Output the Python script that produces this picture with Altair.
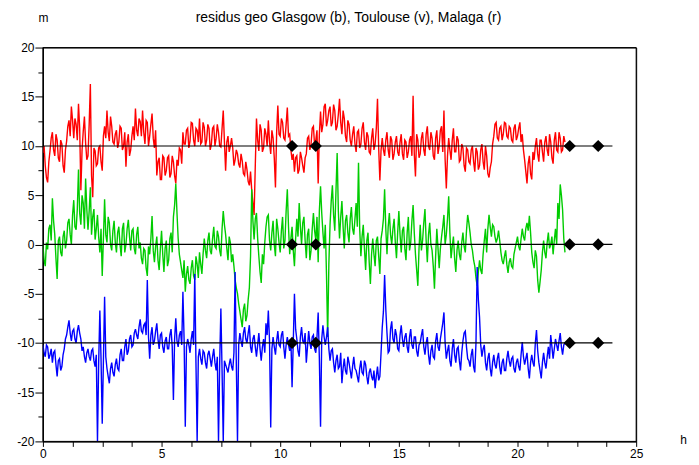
import altair as alt
import pandas as pd

# readings every 0.1 h (k.0, k.1, ...) from 0 to 22 h
red = [
    9.3, 8.0, 6.3, 9.5, 11.4, 9.0, 10.6, 8.4, 10.2, 7.3,
    10.5, 12.6, 14.0, 10.8, 12.2, 14.3, 5.5, 11.5, 10.3, 9.0,
    16.3, 4.8, 9.5, 8.2, 10.0, 7.5, 12.0, 13.6, 10.5, 12.0,
    10.2, 11.6, 10.4, 11.8, 10.0, 7.9, 11.2, 9.6, 12.0, 13.8,
    11.0, 12.5, 13.6, 10.2, 12.4, 11.0, 13.3, 9.8, 7.0, 8.8,
    6.6, 8.8, 7.5, 9.0, 7.2, 8.4, 6.2, 8.0, 9.6, 11.4,
    10.2, 11.8, 10.5, 12.3, 10.0, 11.6, 12.8, 10.4, 11.9, 10.6,
    11.8, 10.2, 12.0, 10.8, 11.4, 9.9, 13.6, 7.5, 11.0, 10.0,
    9.8, 8.6, 9.2, 7.8, 8.5, 7.0, 7.6, 6.0, 5.5, 3.0,
    12.8, 9.5, 11.6, 9.8, 11.2, 12.6, 9.2, 10.8, 5.8, 14.1,
    11.0, 12.4, 10.6, 13.9, 11.2, 8.6, 7.4, 9.0, 7.6, 8.8,
    7.3, 9.2, 11.0, 10.2, 12.0, 10.6, 6.2, 13.5, 12.2, 14.3,
    12.6, 14.0, 12.4, 13.6, 12.0, 14.8, 11.2, 12.8, 10.4, 12.2,
    10.0, 12.0, 9.4, 11.6, 10.2, 12.4, 9.6, 11.0, 9.2, 11.8,
    10.2, 14.8, 6.5, 10.8, 9.0, 11.4, 8.8, 10.6, 9.2, 11.0,
    9.0, 11.2, 8.6, 10.4, 9.4, 11.0, 15.1, 6.9, 10.6, 9.2,
    11.4, 9.0, 12.0, 9.6, 10.8, 8.6, 11.6, 10.0, 12.0, 13.6,
    5.7, 10.8, 8.6, 11.8, 9.4, 10.6, 8.6, 9.8, 7.4, 9.6,
    8.2, 10.0, 7.4, 9.4, 8.0, 10.2, 7.6, 9.0, 6.8, 8.4,
    11.0, 12.4, 10.6, 12.0, 11.2, 12.3, 10.8, 11.8, 10.4, 12.2,
    11.0, 12.4, 11.2, 8.6, 6.2, 9.0, 6.6, 8.6, 10.8, 8.4,
    10.6, 8.4, 11.0, 9.0, 10.4, 8.2, 11.4, 9.4, 10.8, 9.6,
    10.4,
]
# readings at the half steps (k.05, k.15, ...)
red_mid = [
    10.0, 6.8, 8.4, 10.8, 9.6, 11.2, 8.8, 10.6, 8.0, 9.6,
    12.0, 11.0, 12.6, 12.8, 10.6, 11.8, 9.6, 13.0, 8.6, 12.2,
    7.0, 9.8, 8.0, 9.8, 8.4, 11.0, 10.8, 11.4, 13.0, 10.4,
    11.2, 9.8, 12.0, 9.6, 11.4, 10.4, 9.0, 11.0, 10.6, 11.6,
    12.8, 11.0, 11.4, 12.6, 10.0, 12.2, 10.8, 11.6, 8.4, 6.6,
    9.0, 7.0, 8.8, 6.8, 9.0, 7.0, 8.6, 9.8, 8.2, 10.2,
    11.6, 9.8, 12.4, 10.6, 11.8, 10.4, 10.2, 12.4, 10.0, 12.2,
    9.6, 11.8, 10.0, 12.2, 10.0, 11.8, 10.4, 10.4, 9.4, 10.8,
    8.0, 9.6, 8.2, 9.2, 7.2, 8.4, 6.4, 7.4, 4.2, 8.0,
    10.6, 12.2, 9.4, 11.8, 10.0, 10.4, 11.6, 8.8, 11.4, 11.2,
    12.8, 10.8, 12.2, 11.0, 9.6, 9.2, 8.8, 7.2, 9.4, 8.0,
    8.8, 10.8, 9.6, 11.8, 10.0, 11.6, 11.2, 11.4, 14.0, 12.0,
    13.6, 12.0, 14.2, 11.6, 13.2, 12.4, 13.6, 11.0, 12.6, 10.6,
    11.2, 10.2, 11.4, 9.8, 11.8, 10.4, 11.4, 9.4, 10.8, 9.6,
    11.8, 9.8, 9.6, 9.6, 10.6, 9.6, 11.0, 8.6, 10.4, 9.4,
    10.4, 9.2, 10.6, 8.8, 10.6, 9.0, 9.2, 11.2, 8.8, 10.8,
    9.6, 11.2, 10.0, 11.4, 9.0, 10.8, 9.2, 11.6, 9.4, 8.6,
    9.0, 9.6, 10.6, 9.4, 11.0, 8.4, 10.2, 8.0, 9.8, 8.4,
    9.6, 8.4, 9.8, 7.6, 9.6, 8.4, 10.0, 7.2, 7.8, 10.2,
    12.2, 10.8, 11.8, 10.6, 12.4, 11.0, 12.0, 10.6, 11.8, 10.6,
    11.8, 10.4, 9.6, 7.4, 8.2, 7.2, 9.4, 10.0, 9.2, 10.6,
    9.4, 10.4, 9.6, 11.2, 8.8, 10.6, 9.6, 11.4, 9.4, 11.0,
]

green = [
    0.0, -2.2, -0.5, 2.0, 4.7, 1.0, -3.5, 0.8, -1.2, 1.4,
    0.4, 2.6, 0.0, 4.5, 1.5, 7.6, 2.0, 4.2, 6.7, 1.5,
    5.8, 2.8, 0.5, 3.0, -0.8, -3.2, 4.6, 0.2, 2.2, -0.6,
    2.4, -0.8, 1.8, -1.2, 2.2, 0.0, 2.5, -0.6, 1.6, -1.0,
    1.8, 0.2, -2.0, -0.6, -3.2, -1.0, 2.9, -1.8, 0.8, -2.6,
    1.4, -2.8, 0.4, -1.6, 1.2, 2.8, 6.2, 0.6, -1.8, -3.4,
    -4.8, -2.2, -4.0, -1.6, -3.6, -2.0, -0.8, -3.0, 0.6, -1.4,
    1.2, -1.0, 1.8, -0.4, 0.8, -1.2, 3.4, 1.0, -1.6, 0.2,
    -1.0, -3.6, -5.0, -6.8, -8.4, -6.0, -7.2, -4.4, 5.6, 0.5,
    3.2, -1.2, -3.9, -2.0, 1.8, 3.0, -0.6, 2.4, -1.2, 1.6,
    -0.8, 2.8, 0.4, 5.6, -1.0, 1.8, -2.2, 2.6, 4.2, 0.0,
    2.8, -1.4, 1.6, -0.6, 3.2, 0.4, -1.8, 5.9, 1.2, 2.0,
    -9.4, 2.0, 6.0, 1.4, 9.3, 0.6, 4.4, -0.4, 3.0, 0.2,
    3.8, 1.0, 4.2, 8.3, -1.2, 2.0, -2.6, 1.2, -4.0, 0.6,
    -2.2, 0.8, -3.0, 1.4, 5.6, -1.0, 3.2, 0.0, 2.6, -1.4,
    3.4, -0.8, 1.8, -1.6, 2.8, 0.2, 4.0, -1.0, -4.2, 2.0,
    0.4, 3.6, -1.8, 2.2, -0.6, -4.5, 1.6, -2.4, 0.8, 3.0,
    1.0, 4.9, -1.4, 0.8, -2.8, 0.4, -1.6, 1.2, -0.8, 3.0,
    1.2, -0.6, -2.2, -4.2, -1.6, -3.0, 0.4, -0.8, 3.0, 0.8,
    1.8, 0.2, 1.4, -0.8, -2.0, -0.6, -2.9, -1.4, -2.4, -0.4,
    0.8, -0.6, 1.6, 0.4, 2.2, 2.9, -0.8, -2.4, -1.2, -4.9,
    -2.6, 0.4, -1.4, 1.2, 0.0, -1.0, 1.6, 4.2, 6.1, 3.5,
    -0.8,
]
green_mid = [
    -1.6, 0.2, 1.6, 0.4, 2.4, -1.4, 0.4, -0.8, 0.8, -0.4,
    2.2, 1.0, 3.0, 1.8, 3.6, 3.2, 5.0, 1.6, 3.6, 3.4,
    1.0, 3.6, 1.6, 0.8, 1.6, 0.6, 1.0, 2.8, 0.0, 1.4,
    0.2, 1.2, 0.0, 1.6, -0.8, 1.6, 0.8, 1.4, -0.4, 1.0,
    -0.4, -1.4, -0.4, -2.4, -0.2, 0.6, -0.6, -0.2, -1.6, -0.4,
    -1.0, -0.4, -2.2, 0.6, -0.8, 4.0, 3.2, -1.0, -2.6, -1.6,
    -3.0, -3.6, -2.4, -3.2, -1.2, -3.4, -2.0, -1.0, -0.6, 0.4,
    -0.6, 0.6, -0.2, 1.4, -0.6, 1.6, 2.0, -0.4, 0.8, -1.8,
    -2.2, -4.4, -6.0, -7.6, -6.6, -7.8, -5.6, -1.2, 2.4, 2.6,
    0.6, -2.8, -1.0, 0.2, 2.8, 0.4, 1.2, 0.0, 2.6, 0.2,
    1.4, -0.4, 3.4, 1.8, 0.6, -0.6, 0.6, 0.8, 1.8, 2.2,
    0.4, 1.0, -1.6, 1.6, 1.4, 2.8, 3.4, 3.2, -0.4, -3.0,
    -2.0, 4.4, 3.0, 5.4, 3.4, 2.8, 1.8, 2.4, 1.2, 2.6,
    1.6, 2.6, 1.8, 1.6, 0.8, -0.4, 0.4, -1.8, -1.0, -1.0,
    0.4, -1.2, 0.6, 2.6, 1.6, 1.8, 1.0, 1.6, 0.2, 1.2,
    1.0, 1.4, -0.4, 1.2, -0.6, 2.4, 1.2, -2.6, -0.4, -0.6,
    2.2, 0.4, 1.0, 0.0, -2.2, -1.2, -0.4, -0.4, 1.8, 0.0,
    2.6, 1.2, -0.2, -1.4, -0.6, -1.0, 0.2, -0.2, 1.4, 2.2,
    0.0, -1.6, -3.4, -2.8, -2.6, -1.0, 1.6, 1.6, 1.8, 2.0,
    0.8, 0.6, 0.4, -1.6, -1.2, -2.0, -1.8, -2.2, -1.0, 0.2,
    -0.2, 0.6, 0.8, 1.6, 1.4, 1.2, -1.8, -0.6, -3.6, -3.8,
    -0.8, -0.8, 0.2, -0.4, 0.8, 0.4, 0.0, 2.6, 5.0, 0.6,
]

blue = [
    -10.2, -11.4, -10.4, -11.2, -12.0, -10.8, -13.4, -11.6, -12.4, -10.6,
    -9.2, -7.7, -9.8, -8.6, -10.0, -8.2, -9.6, -10.4, -12.0, -10.6,
    -11.8, -10.6, -12.4, -20.0, -6.7, -18.2, -5.3, -12.6, -14.1, -12.0,
    -13.4, -11.6, -12.8, -10.6, -11.8, -9.6, -10.8, -9.2, -10.2, -8.6,
    -9.6, -7.6, -9.0, -8.0, -3.6, -11.6, -8.4, -9.8, -8.0, -10.6,
    -9.0, -11.0, -9.4, -10.6, -8.6, -15.8, -7.5, -10.4, -8.8, -4.8,
    -18.5, -9.6, -11.0, -8.8, -3.0, -20.0, -10.6, -12.2, -11.0, -12.6,
    -10.8, -12.4, -10.6, -12.8, -20.0, -6.5, -20.0, -12.2, -13.0, -11.6,
    -12.8, -2.8, -20.0, -9.0, -10.4, -8.4, -10.0, -8.2, -11.0, -9.2,
    -11.4, -9.0, -11.8, -9.6, -8.0, -6.7, -18.6, -9.4, -11.2, -8.8,
    -10.4, -8.8, -11.6, -9.4, -10.8, -14.5, -5.0, -9.6, -11.4, -8.4,
    -10.0, -12.0, -8.8, -10.6, -9.2, -11.0, -6.9, -18.5, -8.2, -10.2,
    -8.4, -11.8, -10.6, -13.0, -11.2, -12.4, -14.1, -11.6, -13.2, -12.0,
    -13.6, -11.4, -12.8, -14.0, -11.8, -13.2, -12.2, -14.2, -12.6, -13.8,
    -14.6, -12.4, -13.4, -8.4, -3.1, -9.0, -10.8, -7.8, -10.0, -9.2,
    -10.8, -8.2, -10.4, -9.0, -11.0, -8.6, -10.6, -9.4, -11.4, -10.0,
    -8.6, -11.2, -9.4, -12.2, -10.2, -11.6, -9.0, -10.8, -8.8, -6.9,
    -11.6, -10.2, -12.4, -9.6, -12.0, -10.4, -12.8, -9.8, -8.8, -11.6,
    -12.4, -10.6, -13.0, -2.3, -7.4, -11.4, -10.2, -12.8, -11.0, -13.4,
    -11.2, -12.6, -11.0, -13.2, -11.6, -12.8, -10.8, -12.4, -11.4, -13.0,
    -11.6, -12.8, -9.9, -12.2, -11.0, -13.6, -11.2, -12.4, -8.7, -12.0,
    -13.6, -11.0, -12.6, -10.4, -9.2, -11.6, -9.6, -10.8, -9.0, -11.2,
    -10.0,
]
blue_mid = [
    -11.0, -10.2, -11.6, -10.6, -11.0, -12.2, -11.8, -12.8, -11.2, -9.6,
    -8.4, -9.0, -8.8, -9.6, -8.8, -9.0, -10.8, -11.4, -11.0, -11.4,
    -10.8, -11.8, -11.2, -12.0, -11.6, -11.8, -11.4, -13.4, -12.6, -13.0,
    -12.2, -12.6, -11.2, -11.8, -10.4, -11.2, -9.6, -10.4, -9.0, -9.2,
    -8.4, -8.8, -8.2, -9.2, -9.4, -9.2, -10.2, -8.8, -9.6, -9.2,
    -10.4, -9.8, -10.6, -9.2, -10.4, -9.6, -9.8, -9.2, -10.2, -9.6,
    -10.4, -10.2, -9.6, -10.2, -12.0, -11.4, -11.6, -10.8, -12.0, -11.2,
    -11.6, -11.4, -12.0, -11.4, -12.0, -12.8, -11.8, -12.6, -12.2, -12.4,
    -11.0, -12.0, -10.2, -9.8, -9.0, -9.6, -9.0, -10.4, -9.6, -10.4,
    -10.2, -10.6, -10.4, -11.0, -9.2, -9.8, -10.6, -10.4, -9.8, -10.2,
    -9.2, -10.4, -10.2, -10.2, -9.6, -10.0, -8.6, -10.8, -9.4, -9.8,
    -9.0, -10.4, -10.0, -9.4, -10.6, -9.4, -11.6, -9.6, -9.4, -9.4,
    -10.6, -10.8, -12.0, -11.8, -12.6, -11.0, -12.6, -12.8, -11.4, -12.8,
    -12.4, -12.6, -13.4, -12.6, -13.0, -11.8, -13.4, -13.0, -13.4, -12.8,
    -13.4, -13.8, -11.0, -6.8, -6.6, -11.0, -8.6, -9.6, -8.6, -10.6,
    -9.2, -9.6, -9.4, -10.4, -9.4, -10.2, -9.4, -10.8, -10.2, -9.2,
    -10.4, -10.0, -11.2, -10.8, -11.4, -9.8, -10.4, -9.6, -8.0, -10.0,
    -10.8, -11.8, -10.6, -11.2, -10.6, -11.8, -11.0, -9.0, -10.4, -11.8,
    -11.2, -12.4, -10.0, -5.6, -10.2, -10.6, -12.0, -11.6, -12.6, -12.0,
    -12.2, -11.6, -12.4, -12.0, -12.8, -11.6, -11.8, -11.6, -12.6, -12.0,
    -12.4, -11.2, -11.4, -11.6, -12.6, -12.0, -12.0, -10.0, -10.8, -12.8,
    -12.0, -12.0, -11.4, -11.6, -10.4, -10.6, -10.2, -9.8, -10.4, -10.2,
]

# reference levels and marker positions
levels = [10, 0, -10]
level_start = 0
level_end = 24
marker_hours = [10.5, 11.5, 22.2, 23.4]

title_text = "residus geo Glasgow (b), Toulouse (v), Malaga (r)"

FONT = "Liberation Sans"
W, H = 595, 395


def merge(base, mid):
    out = []
    for i in range(len(mid)):
        out += [base[i], mid[i]]
    out.append(base[-1])
    return out


hours = [round(i * 0.05, 2) for i in range(2 * len(red_mid) + 1)]
df = pd.DataFrame({
    "h": hours,
    "red": merge(red, red_mid),
    "green": merge(green, green_mid),
    "blue": merge(blue, blue_mid),
})

x_scale = alt.Scale(domain=[0, 25], nice=False, zero=False)
y_scale = alt.Scale(domain=[-20, 20], nice=False, zero=False)

x_axis = alt.Axis(
    values=[i * 1.25 for i in range(21)],
    labelExpr="datum.value % 5 === 0 ? '' + datum.value : ''",
    tickSize=5, tickColor="black", domainColor="black", labelColor="black",
    labelFont=FONT, labelFontSize=12, labelPadding=2, labelFlush=False,
    grid=False, title="h", titleFont=FONT, titleFontSize=12,
    titleFontWeight="normal", titleColor="black", titleX=642, titleY=-2,
    titleAlign="center", titleBaseline="middle", titleAngle=0,
)
y_axis = alt.Axis(
    values=[-20 + 2.5 * i for i in range(17)],
    labelExpr="datum.value % 5 === 0 ? '' + datum.value : ''",
    tickSize={"condition": {"test": "datum.value % 5 === 0", "value": 8}, "value": 5},
    tickColor="black", domainColor="black", labelColor="black",
    labelFont=FONT, labelFontSize=12, labelPadding=1, labelFlush=False,
    grid=False, title="m", titleFont=FONT, titleFontSize=12,
    titleFontWeight="normal", titleColor="black", titleX=0, titleY=-30,
    titleAlign="center", titleBaseline="middle", titleAngle=0,
)


def series_layer(col, color):
    return alt.Chart(df).mark_line(color=color, strokeWidth=1.4, clip=True).encode(
        x=alt.X("h:Q", scale=x_scale, axis=x_axis),
        y=alt.Y(f"{col}:Q", scale=y_scale, axis=y_axis),
    )


levels_df = pd.DataFrame({"lvl": levels, "x0": [level_start] * 3, "x1": [level_end] * 3})
rules = alt.Chart(levels_df).mark_rule(color="black", strokeWidth=1.2).encode(
    x=alt.X("x0:Q", scale=x_scale, axis=x_axis),
    x2="x1:Q",
    y=alt.Y("lvl:Q", scale=y_scale, axis=y_axis),
)

marks_df = pd.DataFrame([{"h": h, "lvl": l} for l in levels for h in marker_hours])
diamonds = alt.Chart(marks_df).mark_point(
    shape="diamond", filled=True, color="black", size=150, opacity=1
).encode(
    x=alt.X("h:Q", scale=x_scale, axis=x_axis),
    y=alt.Y("lvl:Q", scale=y_scale, axis=y_axis),
)

# plot frame (top and right borders)
frame = alt.Chart(pd.DataFrame({"k": [0]})).mark_rect(
    fill=None, stroke="black", strokeWidth=1
).encode(
    x=alt.value(0), x2=alt.value(W), y=alt.value(0), y2=alt.value(H)
)

chart = alt.layer(
    series_layer("red", "#ff0000"),
    series_layer("green", "#00cc00"),
    series_layer("blue", "#0000ff"),
    rules,
    diamonds,
    frame,
).properties(
    width=W,
    height=H,
    title=alt.TitleParams(
        text=title_text, font=FONT, fontSize=14, fontWeight="normal",
        color="black", anchor="middle", dx=9, offset=-13,
    ),
    autosize=alt.AutoSizeParams(type="none"),
    padding={"left": 35, "top": 39, "right": 55, "bottom": 20},
).configure(
    background="white",
    view=alt.ViewConfig(stroke="black", strokeWidth=1),
)

chart.save("out.html", embed_options={"renderer": "svg", "actions": False})
